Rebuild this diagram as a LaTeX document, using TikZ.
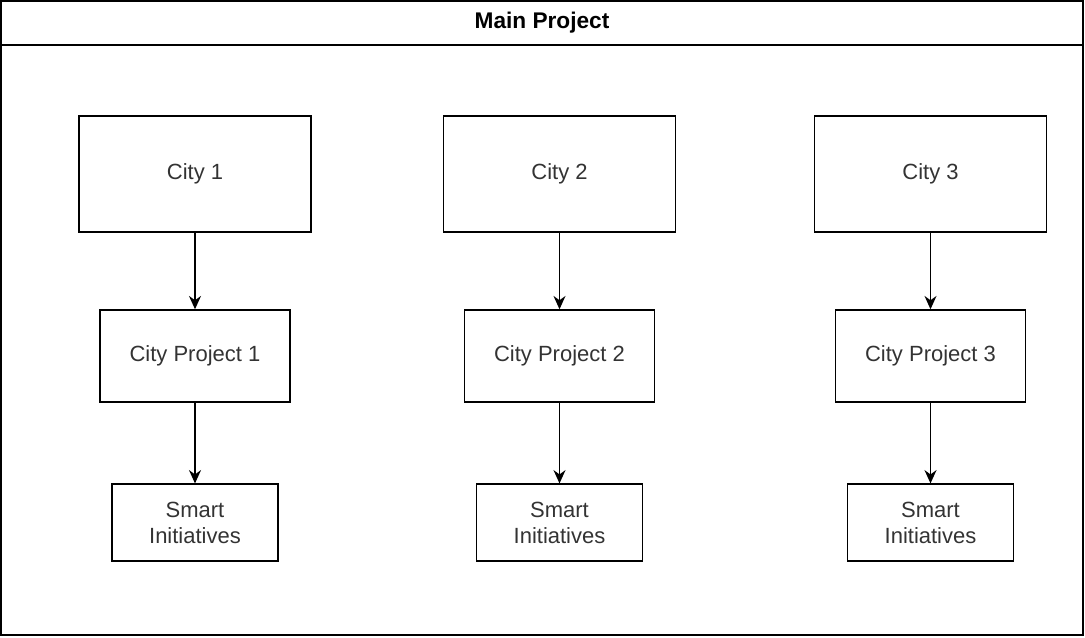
\documentclass[tikz,border=0pt]{standalone}
\usepackage{fontspec}
\setmainfont{Liberation Sans}
\usetikzlibrary{positioning,arrows.meta}

\definecolor{textgrey}{HTML}{333333}

\begin{document}
\begin{tikzpicture}[x=0.75pt,y=-0.75pt,on grid,
    box/.style={draw,line width=1.1pt,text=textgrey,align=center,
        font=\fontsize{16.5}{19.5}\selectfont,inner sep=0pt},
    city/.style={box,minimum width=174pt,minimum height=87pt},
    cproj/.style={box,minimum width=142.5pt,minimum height=69pt},
    smart/.style={box,minimum width=124.5pt,minimum height=57.75pt},
    flow/.style={-{Stealth[length=10pt,width=9pt]},line width=1.1pt}]
    \useasboundingbox (0,0) rectangle (1085,638);
    % swimlane frame
    \node[draw,line width=1.1pt,minimum width=811.5pt,minimum height=442.5pt,inner sep=0pt]
        (main) at (542,340) {};
    \node[draw,line width=1.1pt,minimum width=811.5pt,minimum height=33pt,inner sep=0pt,
        font=\fontsize{17}{19}\selectfont\bfseries] (title) at (542,23) {Main Project};
    % cities
    \node[city] (city_1) at (195,174) {City 1};
    \node[city] (city_2) at (559.5,174) {City 2};
    \node[city] (city_3) at (930.5,174) {City 3};
    \node[cproj] (proj_1) [below=136.5pt of city_1] {City Project 1};
    \node[cproj] (proj_2) [below=136.5pt of city_2] {City Project 2};
    \node[cproj] (proj_3) [below=136.5pt of city_3] {City Project 3};
    \node[smart] (smart_1) [below=125pt of proj_1] {Smart\\Initiatives};
    \node[smart] (smart_2) [below=125pt of proj_2] {Smart\\Initiatives};
    \node[smart] (smart_3) [below=125pt of proj_3] {Smart\\Initiatives};
    \foreach \i in {1,2,3} {
        \draw[flow] (city_\i) -- (proj_\i);
        \draw[flow] (proj_\i) -- (smart_\i);
    }
\end{tikzpicture}
\end{document}
